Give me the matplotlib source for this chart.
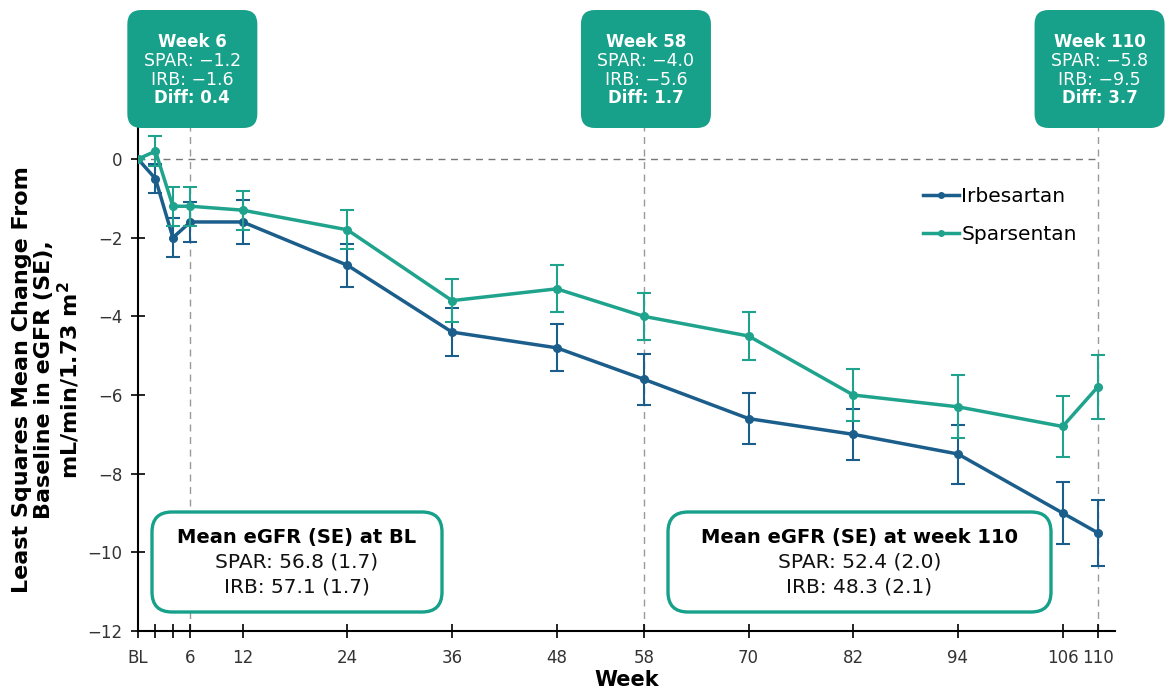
import matplotlib
matplotlib.use("Agg")
import matplotlib.pyplot as plt
from matplotlib.patches import FancyBboxPatch
from matplotlib.lines import Line2D
from matplotlib.transforms import IdentityTransform

plt.rcParams["font.family"] = ["DejaVu Sans"]

# LS mean change from baseline in eGFR (mL/min/1.73 m2)
weeks = [0, 2, 4, 6, 12, 24, 36, 48, 58, 70, 82, 94, 106, 110]
irb = [0, -0.5, -2.0, -1.6, -1.6, -2.7, -4.4, -4.8, -5.6, -6.6, -7.0, -7.5, -9.0, -9.5]
irb_se = [0, 0.37, 0.5, 0.5, 0.55, 0.55, 0.6, 0.6, 0.65, 0.65, 0.65, 0.75, 0.8, 0.84]
spar = [0, 0.2, -1.2, -1.2, -1.3, -1.8, -3.6, -3.3, -4.0, -4.5, -6.0, -6.3, -6.8, -5.8]
spar_se = [0, 0.38, 0.5, 0.5, 0.5, 0.5, 0.55, 0.6, 0.6, 0.6, 0.65, 0.8, 0.78, 0.82]

x_ticks = [0, 2, 4, 6, 12, 24, 36, 48, 58, 70, 82, 94, 106, 110]
x_labels = ["BL", "", "", "6", "12", "24", "36", "48", "58", "70", "82", "94", "106", "110"]
y_ticks = [0, -2, -4, -6, -8, -10, -12]

callout_weeks = [6, 58, 110]
callout_diff = [0.4, 1.7, 3.7]

bl_spar, bl_spar_se = 56.8, 1.7
bl_irb, bl_irb_se = 57.1, 1.7
w110_spar, w110_spar_se = 52.4, 2.0
w110_irb, w110_irb_se = 48.3, 2.1

IRB_C = "#1b5e8b"
SPAR_C = "#1fa38d"
BOX_C = "#17a08a"

W, H = 1173, 696
fig = plt.figure(figsize=(W / 100, H / 100), dpi=100)
ax = fig.add_axes([138 / W, (H - 631) / H, (1115 - 138) / W, (631 - 126) / H])


def fmt(v):
    return f"{v:.1f}".replace("-", "\u2212")


ax.axhline(0, xmin=0, xmax=110 / 112, color="#777777", lw=1, dashes=(5, 4), zorder=1)
for w in callout_weeks:
    ax.axvline(w, color="#999999", lw=1, dashes=(5, 4), zorder=1)

ax.errorbar(weeks, irb, yerr=irb_se, color=IRB_C, lw=2.5, marker="o", ms=5.5,
            capsize=5, elinewidth=1.5, capthick=1.5, zorder=3)
ax.errorbar(weeks, spar, yerr=spar_se, color=SPAR_C, lw=2.5, marker="o", ms=5.5,
            capsize=5, elinewidth=1.5, capthick=1.5, zorder=4)

ax.set_xlim(0, 112)
ax.set_ylim(-12, 0.84)
ax.set_xticks(x_ticks)
ax.set_xticklabels(x_labels)
ax.set_yticks(y_ticks)
ax.set_yticklabels([fmt(t).replace(".0", "") for t in y_ticks])
ax.tick_params(direction="inout", length=10, width=1.2, labelsize=12,
               labelcolor="#333333", colors="black")
ax.tick_params(axis="x", pad=8)
ax.tick_params(axis="y", pad=6)
for s in ["top", "right"]:
    ax.spines[s].set_visible(False)
for s in ["left", "bottom"]:
    ax.spines[s].set_linewidth(1.5)

ax.set_xlabel("Week", fontsize=15, fontweight="bold", labelpad=2)
fig.text(47 / W, (H - 380) / H,
         "Least Squares Mean Change From\nBaseline in eGFR (SE),\nmL/min/1.73 m$^\\mathbf{2}$",
         rotation=90, ha="center", va="center", ma="center",
         fontsize=16, fontweight="bold", linespacing=1.1)

handles = [Line2D([], [], color=IRB_C, lw=2.5, marker="o", ms=4),
           Line2D([], [], color=SPAR_C, lw=2.5, marker="o", ms=4)]
ax.legend(handles, ["Irbesartan", "Sparsentan"], loc="upper left",
          bbox_to_anchor=(0.785, 0.915), frameon=False, fontsize=14.5,
          handlelength=1.8, handletextpad=0.1, labelspacing=0.95)

fig.canvas.draw()


def px_box(x0, top, w, h, **kw):
    p = FancyBboxPatch((x0, H - top - h), w, h, transform=IdentityTransform(), **kw)
    fig.add_artist(p)


def px_text(x, top, s, **kw):
    fig.text(x / W, (H - top) / H, s, ha="center", va="center", **kw)


# week callouts above the plot
for w, d in zip(callout_weeks, callout_diff):
    cx = ax.transData.transform((w, 0))[0] + 2
    i = weeks.index(w)
    px_box(cx - 65, 10, 130, 118, boxstyle="round,pad=0,rounding_size=14",
           facecolor=BOX_C, edgecolor="none")
    px_text(cx, 42, f"Week {w}", color="white", fontsize=12, fontweight="bold")
    px_text(cx, 61, f"SPAR: {fmt(spar[i])}", color="white", fontsize=12.5)
    px_text(cx, 80, f"IRB: {fmt(irb[i])}", color="white", fontsize=12.5)
    px_text(cx, 98, f"Diff: {d:.1f}", color="white", fontsize=12, fontweight="bold")

# baseline / week 110 summary boxes
boxes = [
    (152, 442, "Mean eGFR (SE) at BL", bl_spar, bl_spar_se, bl_irb, bl_irb_se),
    (668, 1051, "Mean eGFR (SE) at week 110", w110_spar, w110_spar_se, w110_irb, w110_irb_se),
]
for x0, x1, title, sv, ss, iv, iss in boxes:
    px_box(x0, 512, x1 - x0, 100, boxstyle="round,pad=0,rounding_size=20",
           facecolor="white", edgecolor=BOX_C, lw=2.4, zorder=5)
    cx = (x0 + x1) / 2
    px_text(cx, 538, title, fontsize=14, fontweight="bold", color="black", zorder=6)
    px_text(cx, 562, f"SPAR: {sv:.1f} ({ss:.1f})", fontsize=14.5, color="#111111", zorder=6)
    px_text(cx, 587, f"IRB: {iv:.1f} ({iss:.1f})", fontsize=14.5, color="#111111", zorder=6)

fig.savefig("out.png", dpi=100)
